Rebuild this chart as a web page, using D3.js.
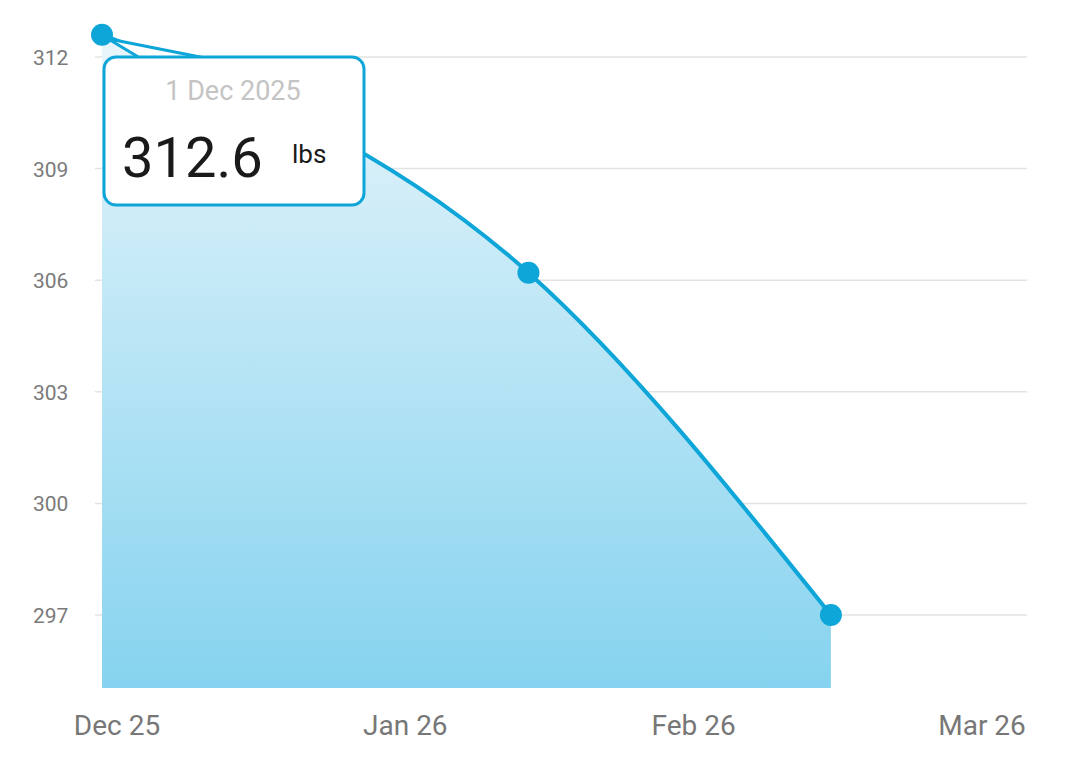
<!DOCTYPE html>
<html>
<head>
<meta charset="utf-8">
<script src="https://cdn.jsdelivr.net/npm/d3@7"></script>
<style>
body{margin:0;background:#fff;}
text{font-family:Roboto,"Noto Sans",sans-serif;}
</style>
</head>
<body>
<div id="viz"></div>
<script>
var width = 1080, height = 761;

// x values are in months since Dec 2025 (0 = Dec, 1 = Jan, ...)
var monthLabels = ["Dec 25","Jan 26","Feb 26","Mar 26"];
var pointMonths = [-0.052, 1.427, 2.476];
var pointWeights = [312.6, 306.2, 297.0];
var yTicks = [297, 300, 303, 306, 309, 312];

var data = pointMonths.map(function(m,i){return {m:m, w:pointWeights[i]};});

var x = d3.scaleLinear().domain([0,3]).range([117,982]);
var y = d3.scaleLinear().domain([297,312]).range([615,57]);
var bottom = 688;

var svg = d3.select("#viz").append("svg")
	.attr("width",width).attr("height",height);

var defs = svg.append("defs");
var grad = defs.append("linearGradient").attr("id","fill")
	.attr("x1",0).attr("y1",0).attr("x2",0).attr("y2",1);
grad.append("stop").attr("offset","0%").attr("stop-color","#e9f6fb");
grad.append("stop").attr("offset","100%").attr("stop-color","#86d3ef");

// grid
svg.append("g").selectAll("line").data(yTicks).enter().append("line")
	.attr("x1",95).attr("x2",1027)
	.attr("y1",function(d){return y(d)}).attr("y2",function(d){return y(d)})
	.attr("stroke","#e3e3e3").attr("stroke-width",1.5);

svg.append("g").selectAll("text").data(yTicks).enter().append("text")
	.attr("x",33).attr("y",function(d){return y(d)+8})
	.attr("font-size",21).attr("fill","#7a7a7a")
	.text(function(d){return d});

svg.append("g").selectAll("text").data(monthLabels).enter().append("text")
	.attr("x",function(d,i){return x(i)}).attr("y",735)
	.attr("text-anchor","middle").attr("font-size",28).attr("fill","#777")
	.text(function(d){return d});

var area = d3.area().curve(d3.curveMonotoneX)
	.x(function(d){return x(d.m)}).y0(bottom).y1(function(d){return y(d.w)});
var line = d3.line().curve(d3.curveMonotoneX)
	.x(function(d){return x(d.m)}).y(function(d){return y(d.w)});

svg.append("path").datum(data).attr("d",area).attr("fill","url(#fill)");
svg.append("path").datum(data).attr("d",line)
	.attr("fill","none").attr("stroke","#0ea5d8").attr("stroke-width",4);

svg.append("g").selectAll("circle").data(data).enter().append("circle")
	.attr("cx",function(d){return x(d.m)}).attr("cy",function(d){return y(d.w)})
	.attr("r",11).attr("fill","#0ea5d8");

// tooltip
var p = data[0];
var tip = svg.append("g");
tip.append("path")
	.attr("d","M"+(x(p.m)+6)+","+(y(p.w)+4)+" L205,58 L140,58 Z")
	.attr("fill","#fff").attr("stroke","#0ea5d8").attr("stroke-width",3);
tip.append("rect").attr("x",104).attr("y",57).attr("width",260).attr("height",148)
	.attr("rx",12).attr("fill","#fff").attr("stroke","#0ea5d8").attr("stroke-width",3);
tip.append("text").attr("x",233).attr("y",100).attr("text-anchor","middle")
	.attr("font-size",27).attr("fill","#c4c4c4").text("1 Dec 2025");
tip.append("text").attr("x",122).attr("y",177).attr("font-size",56).attr("fill","#1a1a1a")
	.text(d3.format(".1f")(p.w));
tip.append("text").attr("x",292).attr("y",163).attr("font-size",26).attr("fill","#1a1a1a")
	.text("lbs");
</script>
</body>
</html>
